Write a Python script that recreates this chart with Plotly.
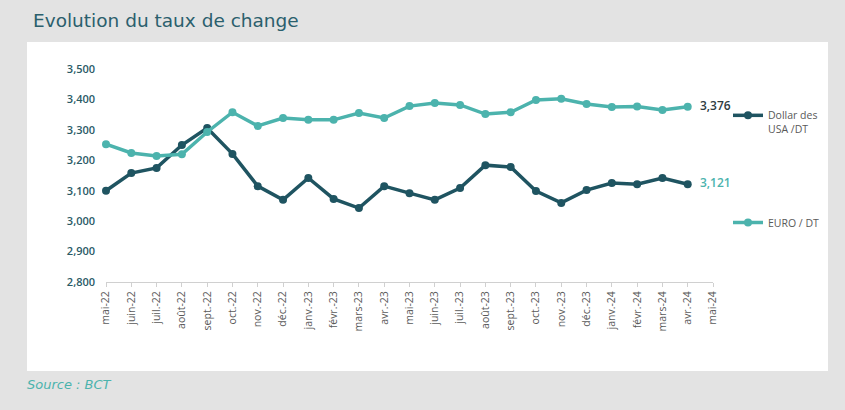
import plotly.graph_objects as go

months = ["mai-22", "juin-22", "juil.-22", "août-22", "sept.-22", "oct.-22", "nov.-22", "déc.-22",
          "janv.-23", "févr.-23", "mars-23", "avr.-23", "mai-23", "juin-23", "juil.-23", "août-23",
          "sept.-23", "oct.-23", "nov.-23", "déc.-23", "janv.-24", "févr.-24", "mars-24", "avr.-24", "mai-24"]

usd_dt = [3.100, 3.158, 3.175, 3.250, 3.306, 3.221, 3.115, 3.070, 3.142, 3.073, 3.043, 3.115,
          3.092, 3.070, 3.109, 3.184, 3.178, 3.099, 3.060, 3.102, 3.125, 3.121, 3.142, 3.121]
eur_dt = [3.253, 3.224, 3.214, 3.220, 3.293, 3.358, 3.313, 3.339, 3.333, 3.333, 3.355, 3.339,
          3.378, 3.388, 3.382, 3.352, 3.358, 3.398, 3.402, 3.385, 3.375, 3.377, 3.365, 3.376]

DARK = "#1f5461"
TEAL = "#4cb3ad"

W, H = 845, 410
L, R, T, B = 106, 845 - 713, 69, 410 - 282
pw, ph = 713 - 106, 282 - 69

def px(x):
    return (x - L) / pw

def py(y):
    return (282 - y) / ph

n = len(usd_dt)
usd_text = [""] * (n - 1) + ["  " + f"{usd_dt[-1]:.3f}".replace(".", ",")]
eur_text = [""] * (n - 1) + ["  " + f"{eur_dt[-1]:.3f}".replace(".", ",")]

fig = go.Figure()
fig.add_trace(go.Scatter(
    x=months[:n], y=usd_dt, mode="lines+markers+text", name="Dollar des<br>USA /DT",
    line=dict(color=DARK, width=3.5), marker=dict(color=DARK, size=8),
    text=usd_text, textposition="middle right",
    textfont=dict(color=TEAL, size=12, family="Open Sans", weight=600),
    cliponaxis=False, legend="legend",
))
fig.add_trace(go.Scatter(
    x=months[:n], y=eur_dt, mode="lines+markers+text", name="EURO / DT",
    line=dict(color=TEAL, width=3.5), marker=dict(color=TEAL, size=8),
    text=eur_text, textposition="middle right",
    textfont=dict(color="#2f3b3f", size=12, family="Open Sans", weight=600),
    cliponaxis=False, legend="legend2",
))
# keeps the last category (mai-24) on the axis
fig.add_trace(go.Scatter(x=[months[-1]], y=[None], showlegend=False, hoverinfo="skip"))

fig.add_shape(type="rect", xref="paper", yref="paper",
              x0=px(27), x1=px(828), y0=py(371), y1=py(42),
              fillcolor="white", line=dict(width=0), layer="below")

fig.update_layout(
    width=W, height=H,
    margin=dict(l=L, r=R, t=T, b=B, autoexpand=False),
    paper_bgcolor="#e3e3e3", plot_bgcolor="rgba(0,0,0,0)",
    separators=", ",
    font=dict(family="Open Sans", color="#595959"),
    xaxis=dict(
        type="category", categoryorder="array", categoryarray=months,
        range=[0, len(months) - 1], showgrid=False,
        showline=True, linecolor="#d0d0d0", linewidth=1,
        ticks="outside", ticklen=4, tickcolor="#d0d0d0",
        tickangle=-90, tickfont=dict(size=10.5, color="#595959"),
    ),
    yaxis=dict(
        range=[2.8, 3.5], dtick=0.1, tickformat=".3f", showgrid=False,
        zeroline=False, showline=False,
        tickfont=dict(size=11, color="#2a5a66", weight=600), ticklabelstandoff=10,
    ),
    legend=dict(x=px(728), y=py(102), xanchor="left", yanchor="top",
                bgcolor="rgba(0,0,0,0)", font=dict(size=10.5, color="#595959"),
                itemwidth=30, valign="top", tracegroupgap=0),
    legend2=dict(x=px(728), y=py(208), xanchor="left", yanchor="top",
                 bgcolor="rgba(0,0,0,0)", font=dict(size=10.5, color="#595959"),
                 itemwidth=30),
    showlegend=True,
    annotations=[
        dict(text="Evolution du taux de change", xref="paper", yref="paper",
             x=px(31), y=py(20), xanchor="left", yanchor="middle", showarrow=False,
             font=dict(family="DejaVu Sans", size=18.5, color="#2b5f6d")),
        dict(text="<i>Source : BCT</i>", xref="paper", yref="paper",
             x=px(25), y=py(384), xanchor="left", yanchor="middle", showarrow=False,
             font=dict(family="DejaVu Sans", size=13, color="#4cb3ad")),
    ],
)

fig.write_html("out.html", config={"displayModeBar": False},
               post_script="document.body.style.margin='0';document.body.style.overflow='hidden';")
